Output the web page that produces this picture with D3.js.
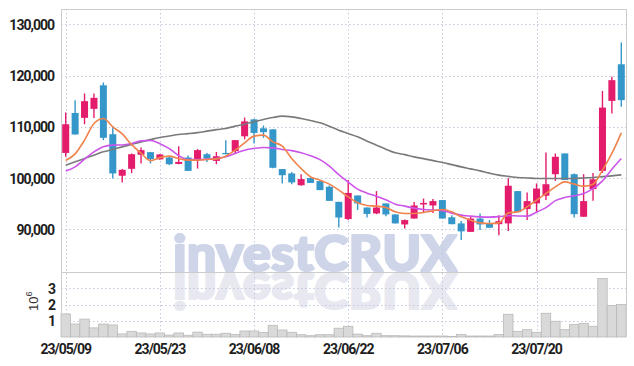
<!DOCTYPE html>
<html>
<head>
<meta charset="utf-8">
<style>
  body { margin: 0; background: #fff; }
  svg { display: block; }
  .tick-label { font-family: Roboto, "Liberation Sans", sans-serif; font-size: 14px; font-weight: bold; letter-spacing: -1px; fill: #1e1e1e; }
</style>
</head>
<body>
<svg width="634" height="366"></svg>
<script src="https://d3js.org/d3.v7.min.js"></script>
<script>

// trading days, 23/05/09 .. 23/08/02
var dates = [
  '23/05/09','23/05/10','23/05/11','23/05/12','23/05/15','23/05/16','23/05/17','23/05/18','23/05/19','23/05/22',
  '23/05/23','23/05/24','23/05/25','23/05/26','23/05/30','23/05/31','23/06/01','23/06/02','23/06/05','23/06/07',
  '23/06/08','23/06/09','23/06/12','23/06/13','23/06/14','23/06/15','23/06/16','23/06/19','23/06/20','23/06/21',
  '23/06/22','23/06/23','23/06/26','23/06/27','23/06/28','23/06/29','23/06/30','23/07/03','23/07/04','23/07/05',
  '23/07/06','23/07/07','23/07/10','23/07/11','23/07/12','23/07/13','23/07/14','23/07/17','23/07/18','23/07/19',
  '23/07/20','23/07/21','23/07/24','23/07/25','23/07/26','23/07/27','23/07/28','23/07/31','23/08/01','23/08/02'
]

var open = [
  104900,112700,111750,113500,118100,108550,100450,101800,104550,105050,
  103650,104000,102750,104000,103500,104650,103350,104900,105250,108150,
  111450,109700,109500,101750,100900,98600,100000,99400,98300,95350,
  92000,96600,94250,93100,95050,92900,90950,92100,94850,94650,
  95700,92350,91150,89500,92100,91150,91000,91150,97450,93950,
  95050,96550,100750,104800,100750,92450,97850,101400,115050,122200
]
var high = [
  112800,115200,116500,116500,118650,110000,101750,104800,105950,105100,
  104700,104100,106200,104400,105650,104900,105100,107400,107400,111800,
  111550,110250,109500,101750,101200,100750,100100,99600,98550,95400,
  99600,96600,94250,97450,95050,92900,91900,95350,96000,95900,
  95700,92750,91600,92450,93100,91800,92750,99950,97450,97200,
  98950,105000,104800,104800,100900,100750,101000,117000,119750,126450
]
var low = [
  104150,108500,110500,111700,107400,99900,99150,100950,102850,102850,
  103550,102550,102700,101400,101850,103150,102700,104650,104900,107550,
  106750,107850,101900,98950,98800,98500,99050,97650,95550,90350,
  91800,93750,92300,92950,92550,91150,90150,92100,93200,93200,
  92100,91000,87900,89500,89850,90300,88850,89650,93350,91800,
  93200,95700,99450,99600,92300,92450,95550,101000,112600,113900
]
var close = [
  110500,108500,115000,115650,107850,100900,101600,104650,105450,103700,
  104600,102700,103150,101400,105450,103800,104250,104650,107400,111050,
  108800,108950,102000,100550,99150,99800,99050,97650,95550,92300,
  97100,95050,93000,94250,92900,91150,91800,94650,95150,95500,
  92100,91000,89600,92100,90950,90300,91600,98500,93350,95500,
  97950,98800,104150,99600,92950,95500,99750,113750,119100,115200
]

// volume, in millions of shares
var volume = [
  1.42,0.80,1.10,0.56,0.80,0.74,0.19,0.35,0.25,0.19,
  0.25,0.12,0.25,0.11,0.30,0.17,0.17,0.23,0.15,0.37,
  0.37,0.27,0.72,0.43,0.29,0.14,0.08,0.14,0.14,0.54,
  0.66,0.18,0.08,0.23,0.08,0.08,0.07,0.06,0.06,0.06,
  0.06,0.04,0.15,0.06,0.06,0.06,0.15,1.40,0.35,0.45,
  0.29,1.46,0.97,0.45,0.76,0.84,0.66,3.60,1.93,2.00
]

// moving averages
var ma5 = [
  103434,104721,107394,110652,111628,109989,108623,106516,104858,103395,
  103980,104273,103785,103492,103492,103629,103746,104273,105443,106868,
  108175,108370,107063,106224,103824,101873,100234,99590,98810,97639,
  96332,95162,94654,94518,94264,93406,93094,93094,93289,93601,
  93874,93406,92430,91786,91260,91143,91260,93211,93406,94381,
  95688,96995,98283,99259,98810,98420,98810,101541,104800,108818
]
var ma10 = [
  101385,102185,103687,105112,106126,106419,106458,106751,107258,107336,
  106711,105736,104370,103590,103590,103687,103785,104136,104800,105443,
  105775,105970,105892,105580,105346,104955,104370,103590,102322,100663,
  99200,97834,97054,96469,95747,94908,94518,94127,93874,93737,
  93640,93152,92762,92567,92430,92372,92469,92664,92606,92567,
  93347,94225,95591,96215,96527,96995,97932,99454,101736,103824
]
var ma60 = [
  102517,103161,103824,104468,105112,105599,106087,106575,107063,107492,
  107921,108214,108506,108662,108857,109150,109443,109677,110126,110516,
  111004,111433,111823,112077,111940,111628,111238,110770,110087,109345,
  108701,108038,107199,106419,105638,104917,104565,104136,103785,103395,
  103044,102614,102185,101795,101405,100956,100566,100332,100117,100020,
  99922,99922,99922,99922,99922,100020,100117,100273,100429,100624
]

var priceTicks = [90000, 100000, 110000, 120000, 130000]
var volumeTicks = [1, 2, 3]
var dateTicks = ['23/05/09', '23/05/23', '23/06/08', '23/06/22', '23/07/06', '23/07/20']

var upColor = '#e31c6c'
var downColor = '#3597c9'
var gridColor = '#c3c8dc'
var frameColor = '#cccccc'

// panel geometry
var plotLeft = 61, plotRight = 626
var plotTop = 9, plotSplit = 272, plotBottom = 337

var svg = d3.select('svg')

var x = d3.scaleBand().domain(dates).range([plotLeft, plotRight])
var bw = x.bandwidth()
function cx(d) { return x(d) + bw / 2 }

var y = d3.scaleLinear().domain([90000, 130000]).range([229.3, 24.3])
var yv = d3.scaleLinear().domain([0, 4]).range([plotBottom, plotSplit])

svg.append('defs').append('clipPath').attr('id', 'price-clip')
  .append('rect')
  .attr('x', plotLeft).attr('y', plotTop)
  .attr('width', plotRight - plotLeft).attr('height', plotSplit - plotTop)

// watermark with its reflection
function watermark(fill, flip) {
  var t = svg.append('text')
    .attr('x', 173).attr('y', plotSplit - 1)
    .attr('textLength', 284).attr('lengthAdjust', 'spacingAndGlyphs')
    .style('font-family', 'Lato, "Open Sans", sans-serif').style('font-weight', 900).style('font-size', '50px')
    .attr('fill', fill).attr('stroke', fill).attr('stroke-width', 2.2).attr('stroke-linejoin', 'round')
    .text('investCRUX')
  if (flip) t.attr('transform', 'translate(0,' + (2 * plotSplit) + ') scale(1,-1)')
}
watermark('#e7e8f0', true)
watermark('#cfd5e9', false)

// grid
var grid = svg.append('g')
  .attr('stroke', gridColor).attr('stroke-width', 1).attr('stroke-dasharray', '1.5,2.5')
grid.selectAll('.hp').data(priceTicks).enter().append('line')
  .attr('x1', plotLeft).attr('x2', plotRight)
  .attr('y1', function (d) { return Math.round(y(d)) + 0.5 })
  .attr('y2', function (d) { return Math.round(y(d)) + 0.5 })
grid.selectAll('.hv').data(volumeTicks).enter().append('line')
  .attr('x1', plotLeft).attr('x2', plotRight)
  .attr('y1', function (d) { return Math.round(yv(d)) + 0.5 })
  .attr('y2', function (d) { return Math.round(yv(d)) + 0.5 })
grid.selectAll('.vx').data(dateTicks).enter().append('line')
  .attr('x1', function (d) { return Math.round(cx(d)) + 0.5 })
  .attr('x2', function (d) { return Math.round(cx(d)) + 0.5 })
  .attr('y1', plotTop).attr('y2', plotBottom)

// volume bars
svg.append('g').selectAll('rect').data(volume).enter().append('rect')
  .attr('x', function (v, i) { return x(dates[i]) })
  .attr('width', bw)
  .attr('y', function (v) { return yv(v) })
  .attr('height', function (v) { return plotBottom - yv(v) })
  .attr('fill', '#d9d9d9')
  .attr('stroke', '#b9b9b9')
  .attr('stroke-width', 0.8)

// frame
var frame = svg.append('g').attr('stroke', frameColor).attr('stroke-width', 1).attr('fill', 'none')
frame.append('path').attr('d', 'M' + (plotLeft + 0.5) + ',' + plotBottom + 'V' + (plotTop + 0.5) + 'H' + (plotRight + 0.5) + 'V' + plotBottom)
frame.append('line').attr('x1', plotLeft).attr('x2', plotRight).attr('y1', plotSplit + 0.5).attr('y2', plotSplit + 0.5)

var plot = svg.append('g').attr('clip-path', 'url(#price-clip)')

// candles
var candles = plot.append('g').selectAll('g').data(dates).enter().append('g')
candles.append('line')
  .attr('x1', function (d) { return cx(d) }).attr('x2', function (d) { return cx(d) })
  .attr('y1', function (d, i) { return y(high[i]) })
  .attr('y2', function (d, i) { return y(low[i]) })
  .attr('stroke', function (d, i) { return close[i] >= open[i] ? upColor : downColor })
  .attr('stroke-width', 1.4)
candles.append('rect')
  .attr('x', function (d) { return cx(d) - 3.5 })
  .attr('width', 7)
  .attr('y', function (d, i) { return y(Math.max(open[i], close[i])) })
  .attr('height', function (d, i) { return Math.max(1, Math.abs(y(open[i]) - y(close[i]))) })
  .attr('fill', function (d, i) { return close[i] >= open[i] ? upColor : downColor })

// moving average lines
var line = d3.line()
  .x(function (v, i) { return cx(dates[i]) })
  .y(function (v) { return y(v) })
  .curve(d3.curveMonotoneX)

plot.append('path').datum(ma60).attr('d', line)
  .attr('fill', 'none').attr('stroke', '#7a7a7a').attr('stroke-width', 1.6)
plot.append('path').datum(ma10).attr('d', line)
  .attr('fill', 'none').attr('stroke', '#cc55ea').attr('stroke-width', 1.6)
plot.append('path').datum(ma5).attr('d', line)
  .attr('fill', 'none').attr('stroke', '#f0834c').attr('stroke-width', 1.6)

// axis labels
svg.append('g').selectAll('text').data(priceTicks).enter().append('text')
  .attr('class', 'tick-label')
  .attr('x', 54).attr('y', function (d) { return y(d) + 5.5 })
  .attr('text-anchor', 'end')
  .text(d3.format(','))
svg.append('g').selectAll('text').data(volumeTicks).enter().append('text')
  .attr('class', 'tick-label')
  .attr('x', 55).attr('y', function (d) { return yv(d) + 5.5 })
  .attr('text-anchor', 'end')
  .text(function (d) { return d })
svg.append('g').selectAll('text').data(dateTicks).enter().append('text')
  .attr('class', 'tick-label')
  .attr('x', function (d) { return cx(d) }).attr('y', 354)
  .attr('text-anchor', 'middle')
  .text(function (d) { return d })

var unit = svg.append('text')
  .attr('transform', 'translate(38,311) rotate(-90)')
  .style('font-family', '"Liberation Sans", sans-serif').style('font-size', '13px').attr('fill', '#333')
unit.append('tspan').text('10')
unit.append('tspan').attr('dy', -6).style('font-size', '9px').text('6')

</script>
</body>
</html>
